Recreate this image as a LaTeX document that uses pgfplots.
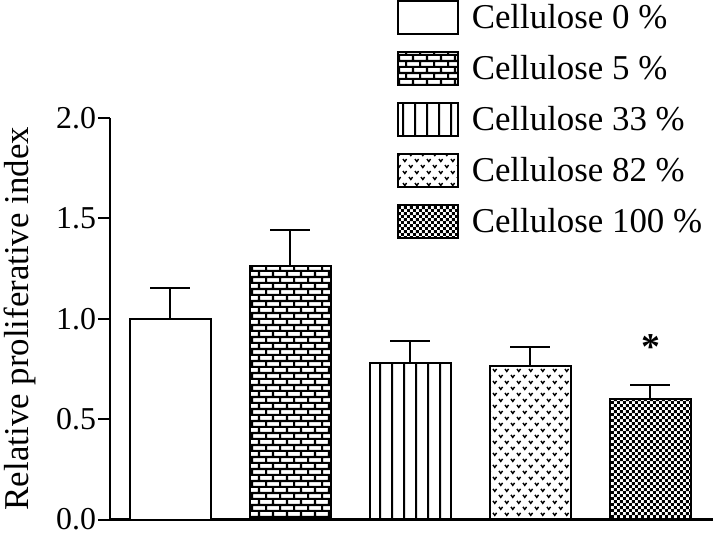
\documentclass[border=0pt]{standalone}
\usepackage{fontspec}
\setmainfont{Liberation Serif}
\usepackage{pgfplots}
\pgfplotsset{compat=1.18}
\usetikzlibrary{patterns}

\pgfdeclarepatternformonly{mybricks}{\pgfpoint{0bp}{0bp}}{\pgfpoint{14bp}{12bp}}{\pgfpoint{14bp}{12bp}}{%
  \pgfpathrectangle{\pgfpoint{0bp}{0bp}}{\pgfpoint{14bp}{2.2bp}}%
  \pgfpathrectangle{\pgfpoint{0bp}{6bp}}{\pgfpoint{14bp}{2.2bp}}%
  \pgfpathrectangle{\pgfpoint{0bp}{2bp}}{\pgfpoint{2.2bp}{4.2bp}}%
  \pgfpathrectangle{\pgfpoint{7bp}{8bp}}{\pgfpoint{2.2bp}{4.2bp}}%
  \pgfusepath{fill}}
\pgfdeclarepatternformonly{myvlines}{\pgfpoint{0bp}{0bp}}{\pgfpoint{11.5bp}{10bp}}{\pgfpoint{11.5bp}{10bp}}{%
  \pgfpathrectangle{\pgfpoint{0bp}{0bp}}{\pgfpoint{2.2bp}{10bp}}%
  \pgfusepath{fill}}
\pgfdeclarepatternformonly{mychecker}{\pgfpoint{0bp}{0bp}}{\pgfpoint{6bp}{6bp}}{\pgfpoint{6bp}{6bp}}{%
  \pgfpathrectangle{\pgfpoint{0bp}{0bp}}{\pgfpoint{3bp}{3bp}}%
  \pgfpathrectangle{\pgfpoint{3bp}{3bp}}{\pgfpoint{3bp}{3bp}}%
  \pgfusepath{fill}}
\pgfdeclarepatternformonly{myvees}{\pgfpoint{-1bp}{-1bp}}{\pgfpoint{13bp}{13bp}}{\pgfpoint{12bp}{12bp}}{%
  \pgfsetlinewidth{1.4bp}%
  \pgfpathmoveto{\pgfpoint{1.2bp}{10.5bp}}\pgfpathlineto{\pgfpoint{3bp}{8bp}}\pgfpathlineto{\pgfpoint{4.8bp}{10.5bp}}%
  \pgfpathmoveto{\pgfpoint{7.2bp}{4.5bp}}\pgfpathlineto{\pgfpoint{9bp}{2bp}}\pgfpathlineto{\pgfpoint{10.8bp}{4.5bp}}%
  \pgfusepath{stroke}}

\pgfplotsset{boxlegend/.style={legend image code/.code={\draw[##1] (0bp,-16.5bp) rectangle (60bp,16.5bp);}}}

\begin{document}
\begin{tikzpicture}
\begin{axis}[
  scale only axis,
  width=603bp, height=402bp,
  xmin=-0.5, xmax=4.52,
  ymin=0, ymax=2.0,
  axis x line*=bottom,
  axis y line*=left,
  axis line style={line width=2.2bp},
  xtick=\empty,
  ytick={0,0.5,1.0,1.5,2.0},
  yticklabel style={/pgf/number format/fixed,/pgf/number format/fixed zerofill,/pgf/number format/precision=1},
  /pgf/number format/assume math mode=true,
  tick style={line width=2bp, black},
  major tick length=12bp,
  tick align=outside,
  ticklabel style={font=\fontsize{32}{35}\selectfont, inner sep=2bp},
  ylabel={Relative proliferative index},
  ylabel style={font=\fontsize{35}{36}\selectfont, inner sep=0bp, yshift=18bp},
  ybar, bar width=81bp, bar shift=0pt,
  legend style={at={(rel axis cs:0.4752,1.2935)}, anchor=north west, draw=none, fill=none,
    font=\fontsize{35}{38}\selectfont, row sep=16bp, inner sep=0bp,
    cells={anchor=west}, nodes={inner sep=0bp},
    /tikz/every odd column/.append style={column sep=13bp}},
  legend cell align=left,
  error bars/y dir=plus, error bars/y explicit,
  error bars/error bar style={line width=2bp, black},
  error bars/error mark options={rotate=90, mark size=20bp, line width=2bp, black},
]
\addplot[draw=black, line width=2bp, fill=white, boxlegend]
  coordinates {(0,1.00) +- (0,0.15)};
\addlegendentry{Cellulose 0 \%}
\addplot[draw=black, line width=2bp, pattern=mybricks, boxlegend]
  coordinates {(1,1.26) +- (0,0.18)};
\addlegendentry{Cellulose 5 \%}
\addplot[draw=black, line width=2bp, pattern=myvlines, boxlegend]
  coordinates {(2,0.78) +- (0,0.11)};
\addlegendentry{Cellulose 33 \%}
\addplot[draw=black, line width=2bp, pattern=myvees, boxlegend]
  coordinates {(3,0.765) +- (0,0.095)};
\addlegendentry{Cellulose 82 \%}
\addplot[draw=black, line width=2bp, pattern=mychecker, boxlegend]
  coordinates {(4,0.60) +- (0,0.07)};
\addlegendentry{Cellulose 100 \%}
\node[font=\fontsize{38}{38}\bfseries\selectfont] at (axis cs:4,0.86) {*};
\end{axis}
\path (current bounding box.south west) ++(-4bp,-3bp) coordinate (padsw);
\end{tikzpicture}
\end{document}
